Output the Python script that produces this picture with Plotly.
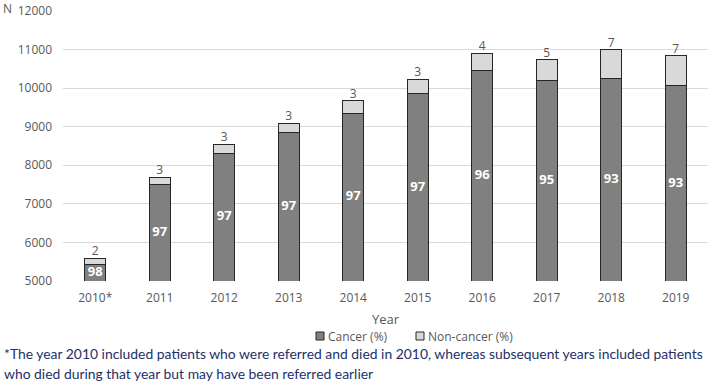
import plotly.graph_objects as go

years = ["2010*", "2011", "2012", "2013", "2014", "2015", "2016", "2017", "2018", "2019"]
cancer_n = [5435, 7495, 8310, 8843, 9347, 9850, 10450, 10210, 10245, 10060]
noncancer_n = [155, 195, 235, 245, 328, 375, 450, 530, 745, 785]
cancer_pct = [98, 97, 97, 97, 97, 97, 96, 95, 93, 93]
noncancer_pct = [2, 3, 3, 3, 3, 3, 4, 5, 7, 7]
y_min, y_max = 5000, 12000

totals = [c + n for c, n in zip(cancer_n, noncancer_n)]
mid_cancer = [(y_min + c) / 2 for c in cancer_n]

AX = "#595959"
FONT = "Open Sans"

fig = go.Figure()
fig.add_trace(go.Bar(x=years, y=cancer_n, name="Cancer (%)", width=0.33,
                     marker=dict(color="#808080", line=dict(color="#262626", width=1)),
                     showlegend=False, hoverinfo="skip"))
fig.add_trace(go.Bar(x=years, y=noncancer_n, name="Non-cancer (%)", width=0.33,
                     marker=dict(color="#d9d9d9", line=dict(color="#262626", width=1)),
                     showlegend=False, hoverinfo="skip"))
fig.add_trace(go.Scatter(x=years, y=mid_cancer, mode="text", text=[str(v) for v in cancer_pct],
                         textposition="middle center",
                         textfont=dict(family=FONT, size=13, color="white", weight="bold"),
                         showlegend=False, hoverinfo="skip"))
fig.add_trace(go.Scatter(x=years, y=totals, mode="text", text=[str(v) for v in noncancer_pct],
                         textposition="top center",
                         textfont=dict(family=FONT, size=12, color=AX),
                         showlegend=False, hoverinfo="skip"))

fig.update_layout(
    width=709, height=382,
    margin=dict(l=63, r=1, t=11, b=101),
    barmode="stack",
    plot_bgcolor="white", paper_bgcolor="white",
    font=dict(family=FONT, size=11, color=AX),
    xaxis=dict(type="category", showgrid=False, showline=False, ticks="",
               ticklabelstandoff=8, tickfont=dict(size=12, color=AX)),
    yaxis=dict(range=[y_min, y_max], dtick=1000, tickformat="d", showgrid=True,
               gridcolor="#d9d9d9", gridwidth=1, zeroline=False, showline=False, ticks="",
               ticklabelstandoff=10, tickfont=dict(size=12, color=AX)),
)

# axis labels
fig.add_annotation(text="N", xref="paper", yref="paper", x=-0.086, y=1.01,
                   showarrow=False, xanchor="center", yanchor="middle",
                   font=dict(size=12, color=AX))
fig.add_annotation(text="Year", xref="paper", yref="paper", x=0.5, y=-0.14,
                   showarrow=False, xanchor="center", yanchor="middle",
                   font=dict(size=13, color=AX))

# legend (manual)
ph = 270.0
pw = 645.0
def px_x(px):
    return (px - 63) / pw
def px_y(py):
    return (281 - py) / ph

leg_y = 336
for (x0, fill, label) in [(316, "#808080", "Cancer (%)"), (416, "#d9d9d9", "Non-cancer (%)")]:
    fig.add_shape(type="rect", xref="paper", yref="paper",
                  x0=px_x(x0), x1=px_x(x0 + 8), y0=px_y(leg_y + 4), y1=px_y(leg_y - 4),
                  fillcolor=fill, line=dict(color="#262626", width=1))
    fig.add_annotation(text=label, xref="paper", yref="paper", x=px_x(x0 + 10), y=px_y(leg_y),
                       showarrow=False, xanchor="left", yanchor="middle",
                       font=dict(size=12, color=AX))

# footnote
foot = ["*The year 2010 included patients who were referred and died in 2010, whereas subsequent years included patients",
        "who died during that year but may have been referred earlier"]
for i, line in enumerate(foot):
    fig.add_annotation(text=line, xref="paper", yref="paper", x=px_x(2), y=px_y(353 + 20 * i),
                       showarrow=False, xanchor="left", yanchor="middle",
                       font=dict(family="Lato", size=13.9, color="#22316a"))

fig.write_html("out.html")
